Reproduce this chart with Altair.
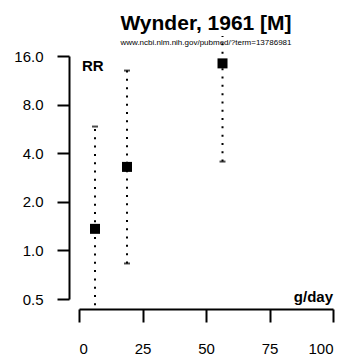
import altair as alt
import pandas as pd

# data
study = ["A", "B", "C"]
dose = [6.3, 18.9, 56.5]          # g/day
rr = [1.36, 3.29, 14.4]
lower = [0.457, 0.83, 3.55]       # lower visible end of interval
upper = [5.85, 13.0, 21.3]        # upper visible end of interval
y_ticks = [0.5, 1.0, 2.0, 4.0, 8.0, 16.0]
x_ticks = [0, 25, 50, 75, 100]

df = pd.DataFrame({"study": study, "dose": dose, "rr": rr, "lower": lower, "upper": upper})

caps = pd.DataFrame({
    "dose": dose + dose,
    "v": lower + upper,
})
caps = caps[(caps["v"] >= min(y_ticks)) & (caps["v"] <= max(y_ticks))]

FONT = "Liberation Sans"

xscale = alt.Scale(domain=[0, 100], nice=False, zero=False)
yscale = alt.Scale(type="log", domain=[0.5, 16], nice=False)

xaxis = alt.Axis(values=x_ticks, title=None, grid=False, offset=10, tickSize=13,
                 labelPadding=19, format="d")
yaxis = alt.Axis(values=y_ticks, title=None, grid=False, offset=10, tickSize=12,
                 labelPadding=14, format=".1f")

base = alt.Chart(df)

ci = base.mark_rule(color="black", strokeWidth=2, strokeDash=[2, 6.3]).encode(
    x=alt.X("dose:Q", scale=xscale, axis=xaxis),
    y=alt.Y("lower:Q", scale=yscale, axis=yaxis),
    y2="upper:Q",
)

cap = alt.Chart(caps).mark_tick(color="black", orient="horizontal", size=6, thickness=2).encode(
    x=alt.X("dose:Q", scale=xscale),
    y=alt.Y("v:Q", scale=yscale),
)

pts = base.mark_point(shape="square", filled=True, color="black", size=100, opacity=1).encode(
    x=alt.X("dose:Q", scale=xscale),
    y=alt.Y("rr:Q", scale=yscale),
)

rr_label = alt.Chart(pd.DataFrame({"t": ["RR"]})).mark_text(
    align="left", baseline="alphabetic", font=FONT, fontSize=15, fontWeight="bold", color="black"
).encode(x=alt.value(3), y=alt.value(15), text="t:N")

unit_label = alt.Chart(pd.DataFrame({"t": ["g/day"]})).mark_text(
    align="right", baseline="alphabetic", font=FONT, fontSize=15, fontWeight="bold", color="black"
).encode(x=alt.value(254), y=alt.value(246), text="t:N")

chart = alt.layer(ci, cap, pts, rr_label, unit_label).properties(
    width=254,
    height=243,
    background="white",
    title=alt.TitleParams(
        text="Wynder, 1961 [M]",
        subtitle="www.ncbi.nlm.nih.gov/pubmed/?term=13786981",
        font=FONT, fontSize=21, fontWeight="bold", color="black",
        subtitleFont=FONT, subtitleFontSize=8, subtitleColor="black",
        subtitlePadding=5, offset=-12, anchor="middle", frame="group",
    ),
    autosize=alt.AutoSizeParams(type="none"),
    padding={"left": 71, "top": 48, "right": 9, "bottom": 60},
).configure_view(stroke=None).configure_axis(
    domainColor="black", domainWidth=2, tickColor="black", tickWidth=2,
    labelFont=FONT, labelFontSize=15, labelColor="black",
)

chart.save("out.html", embed_options={"renderer": "svg", "actions": False})
